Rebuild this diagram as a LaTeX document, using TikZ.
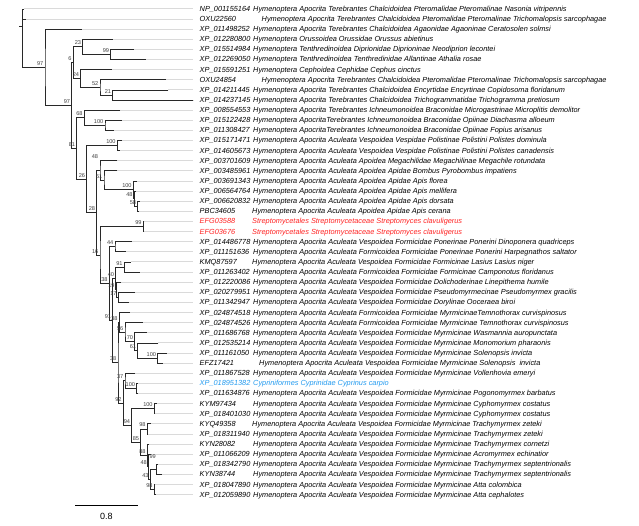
\documentclass[tikz,border=0pt]{standalone}
\usepackage{fontspec}
\setmainfont{Liberation Sans}
\usetikzlibrary{calc}
\definecolor{redtx}{RGB}{255,35,35}
\definecolor{bluetx}{RGB}{35,155,240}
\definecolor{guidec}{RGB}{218,218,218}
\definecolor{brc}{RGB}{40,40,40}
\tikzset{
  br/.style={draw=brc, line width=0.9pt},
  guide/.style={draw=guidec, line width=1pt},
  lbl/.style={anchor=base west, inner sep=0pt, font=\itshape\fontsize{7.35}{8}\selectfont},
  bsl/.style={anchor=base east, inner sep=0pt, font=\fontsize{5.6}{6}\selectfont, text=black!75},
  scl/.style={anchor=base, inner sep=0pt, font=\fontsize{9}{10}\selectfont},
}
\newcommand\leafrow[6]{%
  \pgfmathsetmacro\yy{9+(#1-1)*10.12}%
  \coordinate (t#1) at (#2,\yy);
  \coordinate (e#1) at (193.3,\yy);
  \draw[guide] (t#1) -- (e#1);
  \node[lbl,text=#6] (id#1) at (199.5,\yy+2.4) {#3};
  \node[lbl,text=#6] (ds#1) at (#4,\yy+2.4) {#5};
}
\newcommand\kids[3]{\draw[br] (#2) -| (#1) |- (#3);}
\newcommand\bsv[2]{\node[bsl] (b#1) at ($(#1)+(-1.5,-2)$) {#2};}
\begin{document}
\begin{tikzpicture}[x=1pt,y=-1pt]
\fill[white] (0,0) rectangle (639,526);
\useasboundingbox (0,0) rectangle (639,526);
\def\HA{Hymenoptera Apocrita Aculeata}
\leafrow{1}{24}{NP\_001155164}{253}{Hymenoptera Apocrita Terebrantes Chalcidoidea Pteromalidae Pteromalinae Nasonia vitripennis}{black}
\leafrow{2}{26}{OXU22560}{261.5}{Hymenoptera Apocrita Terebrantes Chalcidoidea Pteromalidae Pteromalinae Trichomalopsis sarcophagae}{black}
\leafrow{3}{81.7}{XP\_011498252}{253}{Hymenoptera Apocrita Terebrantes Chalcidoidea Agaonidae Agaoninae Ceratosolen solmsi}{black}
\leafrow{4}{112.7}{XP\_012280800}{253}{Hymenoptera Orussoidea Orussidae Orussus abietinus}{black}
\leafrow{5}{134}{XP\_015514984}{253}{Hymenoptera Tenthredinoidea Diprionidae Diprioninae Neodiprion lecontei}{black}
\leafrow{6}{146}{XP\_012269050}{253}{Hymenoptera Tenthredinoidea Tenthredinidae Allantinae Athalia rosae}{black}
\leafrow{7}{111.7}{XP\_015591251}{253}{Hymenoptera Cephoidea Cephidae Cephus cinctus}{black}
\leafrow{8}{166}{OXU24854}{261.5}{Hymenoptera Apocrita Terebrantes Chalcidoidea Pteromalidae Pteromalinae Trichomalopsis sarcophagae}{black}
\leafrow{9}{168.3}{XP\_014211445}{253}{Hymenoptera Apocrita Terebrantes Chalcidoidea Encyrtidae Encyrtinae Copidosoma floridanum}{black}
\leafrow{10}{193}{XP\_014237145}{253}{Hymenoptera Apocrita Terebrantes Chalcidoidea Trichogrammatidae Trichogramma pretiosum}{black}
\leafrow{11}{120}{XP\_008554553}{253}{Hymenoptera Apocrita Terebrantes Ichneumonoidea Braconidae Microgastrinae Microplitis demolitor}{black}
\leafrow{12}{121.7}{XP\_015122428}{253}{Hymenoptera ApocritaTerebrantes Ichneumonoidea Braconidae Opiinae Diachasma alloeum}{black}
\leafrow{13}{114}{XP\_011308427}{253}{Hymenoptera ApocritaTerebrantes Ichneumonoidea Braconidae Opiinae Fopius arisanus}{black}
\leafrow{14}{122}{XP\_015171471}{253}{\HA{} Vespoidea Vespidae Polistinae Polistini Polistes dominula}{black}
\leafrow{15}{119.5}{XP\_014605673}{253}{\HA{} Vespoidea Vespidae Polistinae Polistini Polistes canadensis}{black}
\leafrow{16}{117.3}{XP\_003701609}{253}{\HA{} Apoidea Megachilidae Megachilinae Megachile rotundata}{black}
\leafrow{17}{117.3}{XP\_003485961}{253}{\HA{} Apoidea Apidae Bombus Pyrobombus impatiens}{black}
\leafrow{18}{136.7}{XP\_003691343}{253}{\HA{} Apoidea Apidae Apis florea}{black}
\leafrow{19}{136}{XP\_006564764}{253}{\HA{} Apoidea Apidae Apis mellifera}{black}
\leafrow{20}{140}{XP\_006620832}{253}{\HA{} Apoidea Apidae Apis dorsata}{black}
\leafrow{21}{138.5}{PBC34605}{252}{\HA{} Apoidea Apidae Apis cerana}{black}
\leafrow{22}{144}{EFG03588}{252}{Streptomycetales Streptomycetaceae Streptomyces clavuligerus}{redtx}
\leafrow{23}{144}{EFG03676}{252}{Streptomycetales Streptomycetaceae Streptomyces clavuligerus}{redtx}
\leafrow{24}{131.7}{XP\_014486778}{253}{\HA{} Vespoidea Formicidae Ponerinae Ponerini Dinoponera quadriceps}{black}
\leafrow{25}{126}{XP\_011151636}{253}{\HA{} Formicoidea Formicidae Ponerinae Ponerini Harpegnathos saltator}{black}
\leafrow{26}{130.5}{KMQ87597}{252}{\HA{} Vespoidea Formicidae Formicinae Lasius Lasius niger}{black}
\leafrow{27}{139.5}{XP\_011263402}{253}{\HA{} Formicoidea Formicidae Formicinae Camponotus floridanus}{black}
\leafrow{28}{121}{XP\_012220086}{253}{\HA{} Vespoidea Formicidae Dolichoderinae Linepithema humile}{black}
\leafrow{29}{135}{XP\_020279951}{253}{\HA{} Vespoidea Formicidae Pseudomyrmecinae Pseudomyrmex gracilis}{black}
\leafrow{30}{129.3}{XP\_011342947}{253}{\HA{} Vespoidea Formicidae Dorylinae Ooceraea biroi}{black}
\leafrow{31}{130}{XP\_024874518}{253}{\HA{} Formicoidea Formicidae MyrmicinaeTemnothorax curvispinosus}{black}
\leafrow{32}{142.7}{XP\_024874526}{253}{\HA{} Formicoidea Formicidae Myrmicinae Temnothorax curvispinosus}{black}
\leafrow{33}{146.7}{XP\_011686768}{253}{\HA{} Vespoidea Formicidae Myrmicinae Wasmannia auropunctata}{black}
\leafrow{34}{158.3}{XP\_012535214}{253}{\HA{} Vespoidea Formicidae Myrmicinae Monomorium pharaonis}{black}
\leafrow{35}{166.7}{XP\_011161050}{253}{\HA{} Vespoidea Formicidae Myrmicinae Solenopsis invicta}{black}
\leafrow{36}{162.7}{EFZ17421}{259}{\HA{} Vespoidea Formicidae Myrmicinae Solenopsis\ \ invicta}{black}
\leafrow{37}{135}{XP\_011867528}{253}{\HA{} Vespoidea Formicidae Myrmicinae Vollenhovia emeryi}{black}
\leafrow{38}{137}{XP\_018951382}{253}{Cypriniformes Cyprinidae Cyprinus carpio}{bluetx}
\leafrow{39}{137.5}{XP\_011634876}{253}{\HA{} Vespoidea Formicidae Myrmicinae Pogonomyrmex barbatus}{black}
\leafrow{40}{156.7}{KYM97434}{253}{\HA{} Vespoidea Formicidae Myrmicinae Cyphomyrmex costatus}{black}
\leafrow{41}{155}{XP\_018401030}{253}{\HA{} Vespoidea Formicidae Myrmicinae Cyphomyrmex costatus}{black}
\leafrow{42}{150.7}{KYQ49358}{252}{\HA{} Vespoidea Formicidae Myrmicinae Trachymyrmex zeteki}{black}
\leafrow{43}{148}{XP\_018311940}{253}{\HA{} Vespoidea Formicidae Myrmicinae Trachymyrmex zeteki}{black}
\leafrow{44}{149}{KYN28082}{253}{\HA{} Vespoidea Formicidae Myrmicinae Trachymyrmex cornetzi}{black}
\leafrow{45}{151}{XP\_011066209}{253}{\HA{} Vespoidea Formicidae Myrmicinae Acromyrmex echinatior}{black}
\leafrow{46}{157.5}{XP\_018342790}{253}{\HA{} Vespoidea Formicidae Myrmicinae Trachymyrmex septentrionalis}{black}
\leafrow{47}{161.7}{KYN38744}{253}{\HA{} Vespoidea Formicidae Myrmicinae Trachymyrmex septentrionalis}{black}
\leafrow{48}{155}{XP\_018047890}{253}{\HA{} Vespoidea Formicidae Myrmicinae Atta colombica}{black}
\leafrow{49}{155.5}{XP\_012059890}{253}{\HA{} Vespoidea Formicidae Myrmicinae Atta cephalotes}{black}
% internal nodes
\coordinate (rs) at (19.3,26.14);
\coordinate (root) at (22.3,26.14);
\coordinate (n2) at (22.8,43.28);
\coordinate (n97a) at (45,67.44);
\coordinate (n97b) at (71.7,105.64);
\coordinate (n6) at (73.3,62.76);
\coordinate (n23) at (82.7,46.95);
\coordinate (n99a) at (110.7,54.54);
\coordinate (n24) at (80.7,78.575);
\coordinate (n52) at (100,87.43);
\coordinate (n21) at (112.7,95.02);
\coordinate (n81) at (76.7,148.52);
\coordinate (n68) at (84.3,117.79);
\coordinate (n100a) at (105,125.38);
\coordinate (n26) at (86.7,179.25);
\coordinate (n100b) at (117.3,145.62);
\coordinate (n28) at (96.7,212.88);
\coordinate (n48a) at (100,170.6);
\coordinate (n51) at (104,180.41);
\coordinate (n100c) at (133.3,189.9);
\coordinate (n48b) at (134.3,198.75);
\coordinate (n58) at (137.7,206.34);
\coordinate (n16) at (100,255.15);
\coordinate (n99b) at (143.3,226.58);
\coordinate (n38a) at (109.3,283.72);
\coordinate (n44) at (115,246.82);
\coordinate (n91b) at (112.7,320.63);
\coordinate (n40) at (115.7,278.45);
\coordinate (n91a) at (124.3,267.06);
\coordinate (n19) at (116.3,289.83);
\coordinate (n17) at (118.3,297.42);
\coordinate (n38c) at (118,362.8);
\coordinate (n38b) at (119.3,322.4);
\coordinate (n56) at (125,332.21);
\coordinate (n70) at (134.7,341.7);
\coordinate (n61) at (137.7,350.55);
\coordinate (n100d) at (157.7,358.14);
\coordinate (n92) at (123.3,403.2);
\coordinate (n37) at (125,380.91);
\coordinate (n100e) at (136.7,388.5);
\coordinate (n94) at (131.7,425.5);
\coordinate (n100f) at (154.3,408.74);
\coordinate (n85) at (140.7,442.26);
\coordinate (n98a) at (147.3,428.98);
\coordinate (n88) at (147.3,455.55);
\coordinate (n48c) at (148.5,466.93);
\coordinate (n43) at (150.3,479.58);
\coordinate (n99e) at (156.7,469.46);
\coordinate (n98b) at (154.3,489.7);
% branches
\draw[br] (rs) -- (root);
\kids{root}{t1}{n2}
\kids{n2}{t2}{n97a}
\kids{n97a}{t3}{n97b}
\kids{n97b}{n6}{n81}
\kids{n6}{n23}{n24}
\kids{n23}{t4}{n99a}
\kids{n99a}{t5}{t6}
\kids{n24}{t7}{n52}
\kids{n52}{t8}{n21}
\kids{n21}{t9}{t10}
\kids{n81}{n68}{n26}
\kids{n68}{t11}{n100a}
\kids{n100a}{t12}{t13}
\kids{n26}{n100b}{n28}
\kids{n100b}{t14}{t15}
\kids{n28}{n48a}{n16}
\kids{n48a}{t16}{n51}
\kids{n51}{t17}{n100c}
\kids{n100c}{t18}{n48b}
\kids{n48b}{t19}{n58}
\kids{n58}{t20}{t21}
\kids{n16}{n99b}{n38a}
\kids{n99b}{t22}{t23}
\kids{n38a}{n44}{n91b}
\kids{n44}{t24}{t25}
\kids{n91b}{n40}{n38c}
\kids{n40}{n91a}{n19}
\kids{n91a}{t26}{t27}
\kids{n19}{t28}{n17}
\kids{n17}{t29}{t30}
\kids{n38c}{n38b}{n92}
\kids{n38b}{t31}{n56}
\kids{n56}{t32}{n70}
\kids{n70}{t33}{n61}
\kids{n61}{t34}{n100d}
\kids{n100d}{t35}{t36}
\kids{n92}{n37}{n94}
\kids{n37}{t37}{n100e}
\kids{n100e}{t38}{t39}
\kids{n94}{n100f}{n85}
\kids{n100f}{t40}{t41}
\kids{n85}{n98a}{n88}
\kids{n98a}{t42}{t43}
\kids{n88}{t44}{n48c}
\kids{n48c}{t45}{n43}
\kids{n43}{n99e}{n98b}
\kids{n99e}{t46}{t47}
\kids{n98b}{t48}{t49}
% bootstrap values
\bsv{n97a}{97}\bsv{n97b}{97}\bsv{n6}{6}\bsv{n23}{23}\bsv{n99a}{99}
\bsv{n24}{24}\bsv{n52}{52}\bsv{n21}{21}\bsv{n81}{81}\bsv{n68}{68}
\bsv{n100a}{100}\bsv{n26}{26}\bsv{n100b}{100}\bsv{n28}{28}
\node[bsl] (bn48a) at (98.3,159) {48};
\bsv{n51}{51}\bsv{n100c}{100}\bsv{n48b}{48}\bsv{n58}{58}\bsv{n16}{16}
\bsv{n99b}{99}\bsv{n38a}{38}\bsv{n44}{44}\bsv{n91b}{91}\bsv{n40}{40}
\bsv{n91a}{91}\bsv{n19}{19}\bsv{n17}{17}\bsv{n38c}{38}\bsv{n38b}{38}
\bsv{n56}{56}\bsv{n70}{70}\bsv{n61}{61}\bsv{n100d}{100}\bsv{n92}{92}
\bsv{n37}{37}\bsv{n100e}{100}\bsv{n94}{94}\bsv{n100f}{100}\bsv{n85}{85}
\bsv{n98a}{98}\bsv{n88}{88}\bsv{n48c}{48}\bsv{n43}{43}
\node[bsl] (bn99e) at (156,458) {99};
\bsv{n98b}{98}
% scale bar
\coordinate (sbL) at (75,505);
\coordinate (sbR) at (137.7,505);
\draw[black, line width=0.9pt] (sbL) -- (sbR);
\node[scl] (sblab) at (106.3,519) {0.8};
\end{tikzpicture}
\end{document}
